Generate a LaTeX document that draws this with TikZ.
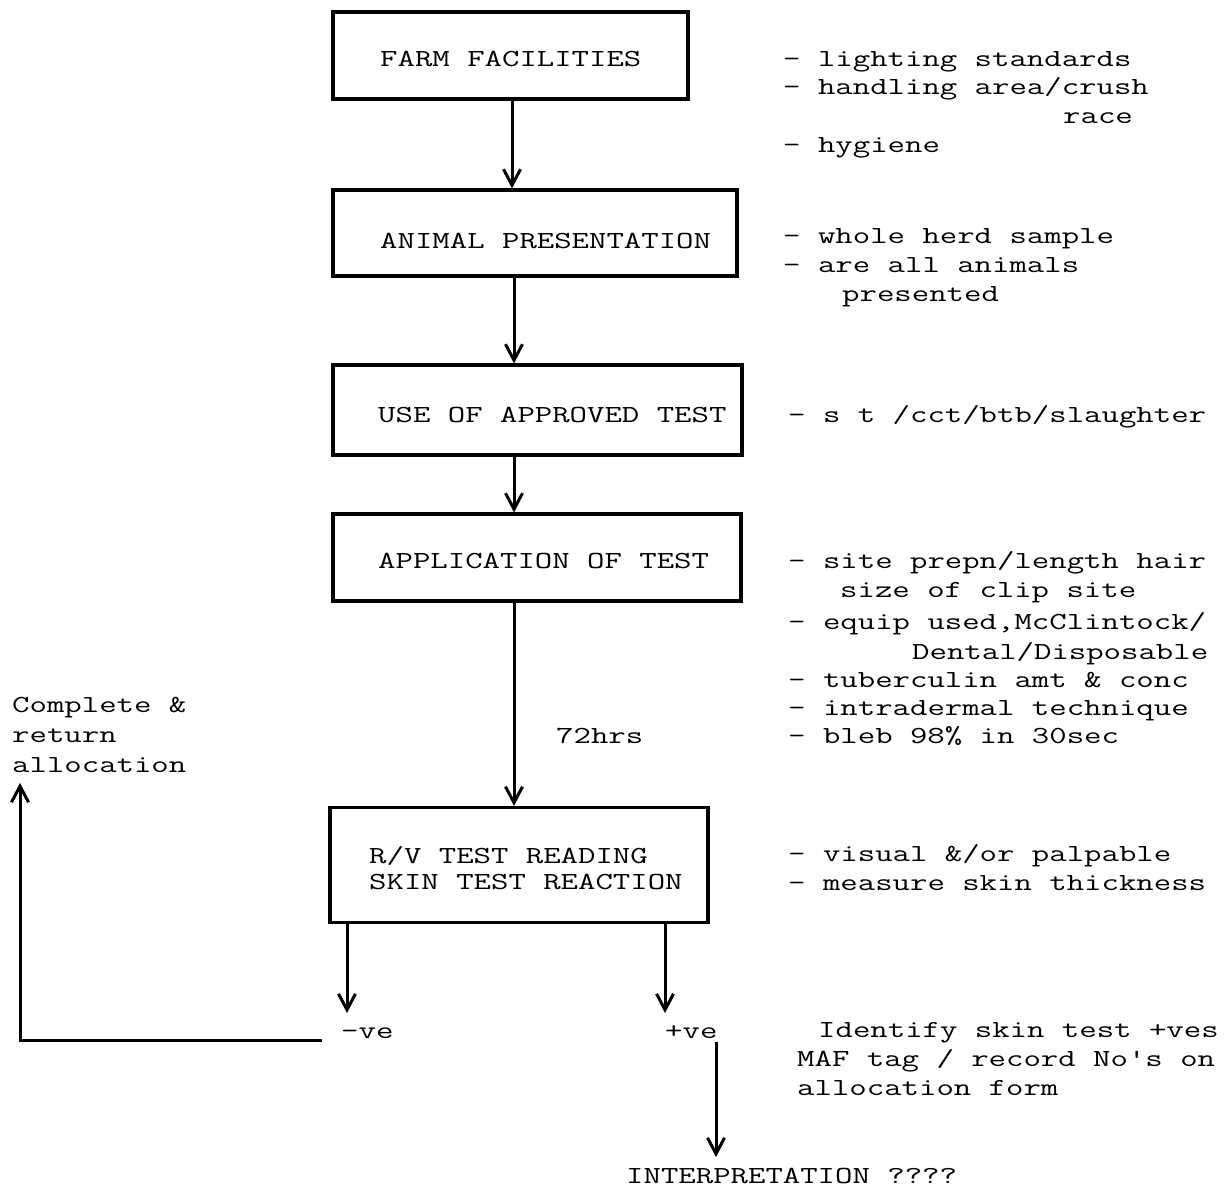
\documentclass[tikz,border=0pt]{standalone}
\usepackage{fontspec}
\usepackage{graphicx}
\usetikzlibrary{arrows.meta}
\newcommand\tw[1]{\scalebox{1.38}[1]{#1}}
\begin{document}
\begin{tikzpicture}[x=1pt,y=-1pt,
  boxnode/.style={draw,line width=3.2pt,inner sep=0pt},
  txt/.style={anchor=base west,inner sep=0pt,font=\ttfamily\fontsize{24.5}{29}\selectfont},
  arr/.style={line width=3pt,-{Straight Barb[length=16pt,width=17pt]}}]
\useasboundingbox (0,0) rectangle (1226,1188);
% boxes
\node[boxnode,minimum width=355pt,minimum height=87pt] (b1) at (510.5,55.5) {};
\node[boxnode,minimum width=404pt,minimum height=86pt] (b2) at (535,233) {};
\node[boxnode,minimum width=409pt,minimum height=90pt] (b3) at (537.5,410) {};
\node[boxnode,minimum width=408pt,minimum height=87pt] (b4) at (537,557.5) {};
\node[boxnode,minimum width=378pt,minimum height=115pt] (b5) at (519,865) {};
% box texts
\node[txt] (t1) at (380,67) {\tw{FARM FACILITIES}};
\node[txt] (t2) at (380,248) {\tw{ANIMAL PRESENTATION}};
\node[txt] (t3) at (378,422) {\tw{USE OF APPROVED TEST}};
\node[txt] (t4) at (378,568) {\tw{APPLICATION OF TEST}};
\node[txt] (t5a) at (369,863) {\tw{R/V TEST READING}};
\node[txt] (t5b) at (369,889) {\tw{SKIN TEST REACTION}};
% right notes
\node[txt] (r1a) at (783,67) {\tw{- lighting standards}};
\node[txt] (r1b) at (783,95) {\tw{- handling area/crush}};
\node[txt] (r1c) at (1063,124) {\tw{race}};
\node[txt] (r1d) at (783,153) {\tw{- hygiene}};
\node[txt] (r2a) at (783,243) {\tw{- whole herd sample}};
\node[txt] (r2b) at (783,272) {\tw{- are all animals}};
\node[txt] (r2c) at (842,301) {\tw{presented}};
\node[txt] (r3a) at (788,422) {\tw{- s t /cct/btb/slaughter}};
\node[txt] (r4a) at (788,568) {\tw{- site prepn/length hair}};
\node[txt] (r4b) at (840,597) {\tw{size of clip site}};
\node[txt] (r4c) at (788,629) {\tw{- equip used,McClintock/}};
\node[txt] (r4d) at (912,659) {\tw{Dental/Disposable}};
\node[txt] (r4e) at (788,687) {\tw{- tuberculin amt \& conc}};
\node[txt] (r4f) at (788,715) {\tw{- intradermal technique}};
\node[txt] (r4g) at (788,743) {\tw{- bleb 98\% in 30sec}};
\node[txt] (r5a) at (788,861) {\tw{- visual \&/or palpable}};
\node[txt] (r5b) at (788,890) {\tw{- measure skin thickness}};
% other labels
\node[txt] (hrs) at (556,743) {\tw{72hrs}};
\node[txt] (c1) at (12,712) {\tw{Complete \&}};
\node[txt] (c2) at (12,742) {\tw{return}};
\node[txt] (c3) at (12,772) {\tw{allocation}};
\node[txt] (neg) at (341,1038) {\tw{-ve}};
\node[txt] (pos) at (665,1038) {\tw{+ve}};
\node[txt] (id1) at (818,1037) {\tw{Identify skin test +ves}};
\node[txt] (id2) at (797,1066) {\tw{MAF tag / record No's on}};
\node[txt] (id3) at (797,1095) {\tw{allocation form}};
\node[txt] (interp) at (626,1183) {\tw{INTERPRETATION ????}};
% helper coordinates
\coordinate (xa) at (512,0);
\coordinate (xb) at (514,0);
\coordinate (xn) at (347,1013);
\coordinate (xp) at (665,1013);
\coordinate (n1) at (322,1040);
\coordinate (n2) at (20,783);
\coordinate (p1) at (716,1042);
\coordinate (p2) at (716,1157);
% connectors
\draw[arr] (b1.south -| xa) -- (b2.north -| xa);
\draw[arr] (b2.south -| xb) -- (b3.north -| xb);
\draw[arr] (b3.south -| xb) -- (b4.north -| xb);
\draw[arr] (b4.south -| xb) -- (b5.north -| xb);
\draw[arr] (b5.south -| xn) -- (xn);
\draw[arr] (b5.south -| xp) -- (xp);
\draw[arr] (n1) -| (n2);
\draw[arr] (p1) -- (p2);
\end{tikzpicture}
\end{document}
